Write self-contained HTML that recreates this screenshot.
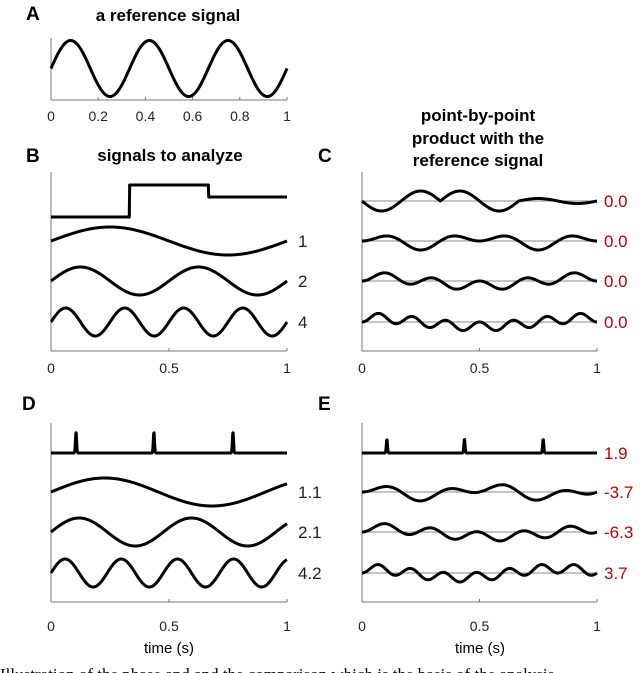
<!DOCTYPE html>
<html><head><meta charset="utf-8"><style>
html,body{margin:0;padding:0;background:#fff;}
svg{display:block;font-family:"Liberation Sans",Arial,sans-serif;}
</style></head><body>
<svg id="fig" width="640" height="673" viewBox="0 0 640 673">
<g font-weight="bold" font-size="19" fill="#000">
<text x="26" y="20">A</text>
<text x="26" y="162">B</text>
<text x="318" y="162">C</text>
<text x="22" y="410">D</text>
<text x="318" y="410">E</text>
</g>
<g font-weight="bold" font-size="17" text-anchor="middle" fill="#000">
<text x="168" y="21">a reference signal</text>
<text x="170" y="161">signals to analyze</text>
<text x="478" y="121">point-by-point</text>
<text x="478" y="144">product with the</text>
<text x="478" y="166">reference signal</text>
</g>
<text x="169" y="653" font-size="15" text-anchor="middle">time (s)</text>
<text x="480" y="653" font-size="15" text-anchor="middle">time (s)</text>
<text x="0" y="680" font-family="Liberation Serif, serif" font-size="17">Illustration of the phase and and the comparison which is the basis of the analysis</text>
<g id="plots"></g>
</svg>
<script>
// data
const refFreq = 3;
const aTicks = [0, 0.2, 0.4, 0.6, 0.8, 1];
const bcTicks = [0, 0.5, 1];
const stepTimes = [0.333, 0.667];
const stepLevels = [-1, 1, 0.25];
const bFreqs = [1, 2, 4];
const bLabels = ["1", "2", "4"];
const cValues = ["0.0", "0.0", "0.0", "0.0"];
const spikeTimes = [0.106, 0.436, 0.771];
const dFreqs = [1.1, 2.1, 4.2];
const dLabels = ["1.1", "2.1", "4.2"];
const eValues = ["1.9", "-3.7", "-6.3", "3.7"];

const NS = "http://www.w3.org/2000/svg";
const root = document.getElementById('plots');
function mk(tag, attrs, parent) {
  const e = document.createElementNS(NS, tag);
  for (const k in attrs) e.setAttribute(k, attrs[k]);
  (parent || root).appendChild(e);
  return e;
}
function xScale(x0, x1) { return t => x0 + (x1 - x0) * t; }
const N = 600;
function ref(t) { return Math.sin(2 * Math.PI * refFreq * t); }
function stepSig(t) { return t < stepTimes[0] ? stepLevels[0] : (t < stepTimes[1] ? stepLevels[1] : stepLevels[2]); }
function spikeSig(t) { let v = 0; for (const s of spikeTimes) v += Math.exp(-Math.pow((t - s) / 0.0035, 2)); return v; }
function trace(fn, sx, y0, amp, name) {
  let d = "";
  for (let i = 0; i <= N; i++) {
    const t = i / N;
    d += (i ? "L" : "M") + sx(t).toFixed(2) + "," + (y0 - amp * fn(t)).toFixed(2);
  }
  const p = mk('path', {d: d, fill: 'none', stroke: '#000', 'stroke-width': 3, 'stroke-linejoin': 'round'});
  
  
  return p;
}
function axes(x0, x1, yTop, yBot, ticks, tickY, name) {
  const g = mk('g', {});
  
  
  mk('line', {x1: x0, y1: yTop, x2: x0, y2: yBot, stroke: '#777', 'stroke-width': 1}, g);
  mk('line', {x1: x0, y1: yBot, x2: x1, y2: yBot, stroke: '#777', 'stroke-width': 1}, g);
  const sx = xScale(x0, x1);
  ticks.forEach(v => {
    mk('line', {x1: sx(v), y1: yBot, x2: sx(v), y2: yBot - 3, stroke: '#777'}, g);
    const t = mk('text', {x: sx(v), y: tickY, 'font-size': 14, 'text-anchor': 'middle', fill: '#222'}, g);
    t.textContent = v;
    
    
  });
  return sx;
}
function baseline(sx, y, name) {
  const l = mk('line', {x1: sx(0), y1: y, x2: sx(1), y2: y, stroke: '#888', 'stroke-width': 1});
  
  
}
function label(x, y, txt, color, name) {
  const t = mk('text', {x: x, y: y + 6, 'font-size': 17, fill: color});
  t.textContent = txt;
  
  
}

// Panel A
const sa = axes(51, 287, 38, 100, aTicks, 121, 'axes-a');
trace(ref, sa, 68.5, 28, 'reference-signal');

// Panel B / C
const bRows = [201, 241, 281, 322];
const sb = axes(51, 287, 172, 351, bcTicks, 373, 'axes-b');
trace(stepSig, sb, 201, 16, 'step-signal');
bFreqs.forEach((f, i) => {
  trace(t => Math.sin(2 * Math.PI * f * t), sb, bRows[i + 1], 14, 'sine-' + bLabels[i] + 'hz');
  label(298, bRows[i + 1], bLabels[i], '#222', 'freq-label-' + bLabels[i]);
});
const sc = axes(362, 597, 172, 351, bcTicks, 373, 'axes-c');
bRows.forEach((y, i) => baseline(sc, y, 'zero-line-c-' + i));
trace(t => stepSig(t) * ref(t), sc, bRows[0], 10, 'product-step');
bFreqs.forEach((f, i) => {
  trace(t => Math.sin(2 * Math.PI * f * t) * ref(t), sc, bRows[i + 1], 9, 'product-' + bLabels[i] + 'hz');
});
cValues.forEach((v, i) => label(604, bRows[i], v, '#c00000', 'c-value-' + i));

// Panel D / E
const dRows = [453, 492, 532, 573];
const sd = axes(51, 287, 423, 602, bcTicks, 631, 'axes-d');
trace(spikeSig, sd, 453, 21, 'spike-train');
dFreqs.forEach((f, i) => {
  trace(t => Math.sin(2 * Math.PI * f * t), sd, dRows[i + 1], 14, 'sine-' + dLabels[i] + 'hz');
  label(298, dRows[i + 1], dLabels[i], '#222', 'freq-label-' + dLabels[i]);
});
const se = axes(362, 597, 423, 602, bcTicks, 631, 'axes-e');
dRows.slice(1).forEach((y, i) => baseline(se, y, 'zero-line-e-' + i));
trace(t => spikeSig(t) * Math.max(ref(t), 0.5), se, 453, 15, 'product-spikes');
dFreqs.forEach((f, i) => {
  trace(t => Math.sin(2 * Math.PI * f * t) * ref(t), se, dRows[i + 1], 9, 'product-' + dLabels[i] + 'hz');
});
eValues.forEach((v, i) => label(604, dRows[i], v, '#c00000', 'e-value-' + i));
</script>
</body></html>
